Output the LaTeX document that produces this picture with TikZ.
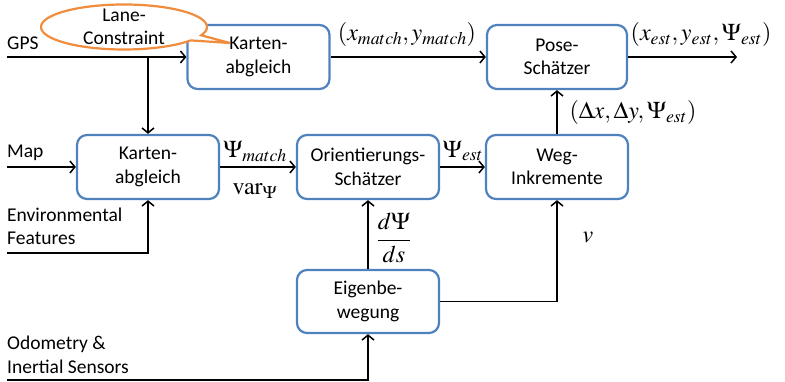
\documentclass[tikz,border=0pt]{standalone}
\usepackage{mathptmx}
\usepackage[no-math]{fontspec}
\setmainfont{Carlito}
\usetikzlibrary{arrows.meta,shapes.callouts}
\definecolor{boxblue}{RGB}{79,129,189}
\definecolor{callorange}{RGB}{240,140,60}
\newcommand\txtfont{\fontsize{19.5}{23.5}\selectfont}
\newcommand\mthfont{\fontsize{24}{28}\selectfont}
\begin{document}
\begin{tikzpicture}[x=1pt,y=-1pt,
  blk/.style={draw=boxblue,line width=2.2pt,rounded corners=10pt,minimum width=142pt,minimum height=64pt,inner sep=0pt,align=center,font=\txtfont},
  conn/.style={line width=1.5pt,-{Straight Barb[length=5pt,width=12pt,line width=1.5pt]}},
  lbl/.style={inner sep=0pt,align=left,anchor=west,font=\txtfont},
  mth/.style={inner sep=0pt,font=\mthfont}]
\useasboundingbox (0,0) rectangle (785,382);
\node[blk] (k1) at (258.5,57) {Karten-\\abgleich};
\node[blk,minimum width=140pt] (pose) at (557,57) {Pose-\\Schätzer};
\node[blk] (k2) at (148,167) {Karten-\\abgleich};
\node[blk] (ori) at (368,167) {Orientierungs-\\Schätzer};
\node[blk] (weg) at (557,167) {Weg-\\Inkremente};
\node[blk,minimum height=63pt] (eig) at (368,301.5) {Eigenbe-\\wegung};
\coordinate (gps) at (7,57);
\coordinate (jn) at (148,57);
\coordinate (map) at (7,167);
\coordinate (env) at (7,253);
\coordinate (odo) at (7,380);
\coordinate (out) at (737,57);
\draw[conn] (gps) -- (k1.west);
\draw[conn] (jn) -- (k2.north);
\draw[conn] (map) -- (k2.west);
\draw[conn] (env) -| (k2.south);
\draw[conn] (k1.east) -- (pose.west);
\draw[conn] (pose.east) -- (out);
\draw[conn] (k2.east) -- (ori.west);
\draw[conn] (ori.east) -- (weg.west);
\draw[conn] (weg.north) -- (pose.south);
\draw[conn] (eig.north) -- (ori.south);
\draw[conn] (eig.east) -| (weg.south);
\draw[conn] (odo) -| (eig.south);
\node[ellipse callout,draw=callorange,fill=white,line width=2.2pt,minimum width=166pt,minimum height=45pt,inner sep=0pt,callout absolute pointer={(230,43)}] (lane) at (124,27) {};
\node[font=\txtfont,align=center,inner sep=0pt] (laneT) at (lane.center) {Lane-\\Constraint};
\node[lbl] (gpsT) at (7,43) {GPS};
\node[lbl] (mapT) at (7,153) {Map};
\node[lbl] (envT) at (7,226.5) {Environmental\\Features};
\node[lbl] (odoT) at (7,355) {Odometry \&\\Inertial Sensors};
\node[mth] (l1) at (407,35) {$(x_{match},y_{match})$};
\node[mth] (l2) at (701,35) {$(x_{est},y_{est},\Psi_{est})$};
\node[mth] (l3) at (633,113) {$(\Delta x,\Delta y,\Psi_{est})$};
\node[mth] (l4) at (255,151) {$\Psi_{match}$};
\node[mth] (l5) at (255,191) {$\mathrm{var}_{\Psi}$};
\node[mth] (l6) at (463,151) {$\Psi_{est}$};
\node[mth] (l7) at (394,238) {$\displaystyle\frac{d\Psi}{ds}$};
\node[mth] (l8) at (588,237) {$v$};
\end{tikzpicture}
\end{document}
